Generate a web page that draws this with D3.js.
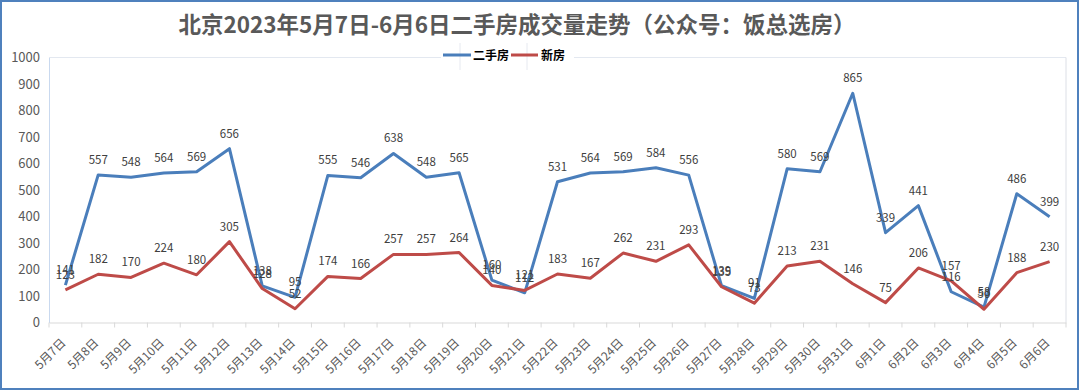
<!DOCTYPE html>
<html>
<head>
<meta charset="utf-8">
<script src="https://cdn.jsdelivr.net/npm/d3@7"></script>
<style>
  html, body { margin: 0; padding: 0; background: #fff; }
  svg { display: block; }
  text { font-family: "Noto Sans CJK SC", "Noto Sans", sans-serif; }
</style>
</head>
<body>
<svg id="chart" width="1080" height="391"></svg>
<script>
const categories = ["5月7日","5月8日","5月9日","5月10日","5月11日","5月12日","5月13日","5月14日","5月15日","5月16日","5月17日","5月18日","5月19日","5月20日","5月21日","5月22日","5月23日","5月24日","5月25日","5月26日","5月27日","5月28日","5月29日","5月30日","5月31日","6月1日","6月2日","6月3日","6月4日","6月5日","6月6日"];
const secondHand = [141,557,548,564,569,656,138,95,555,546,638,548,565,160,112,531,564,569,584,556,139,91,580,569,865,339,441,116,58,486,399];
const newHome = [123,182,170,224,180,305,128,52,174,166,257,257,264,140,121,183,167,262,231,293,135,73,213,231,146,75,206,157,50,188,230];
const yTicks = [0,100,200,300,400,500,600,700,800,900,1000];
const seriesNames = ["二手房","新房"];
const title = "北京2023年5月7日-6月6日二手房成交量走势（公众号：饭总选房）";

(function () {
const colors = ["#4a7ebb", "#be4b48"];
const svg = d3.select("#chart");
const W = 1080, H = 391;
const pL = 49, pR = 1066, pT = 57.5, pB = 322.5;

// outer frame
svg.append("rect").attr("x", 1).attr("y", 1).attr("width", W - 3).attr("height", H - 3)
  .attr("fill", "#fff").attr("stroke", "#4f81bd").attr("stroke-width", 2);

const x = d3.scaleBand().domain(categories).range([pL, pR]);
const y = d3.scaleLinear().domain([0, 1000]).range([pB, pT]);
const cx = c => x(c) + x.bandwidth() / 2;

// plot area border
svg.append("line").attr("x1", pL).attr("x2", pR).attr("y1", pT).attr("y2", pT)
  .attr("stroke", "#e3e8f0").attr("stroke-width", 1);
svg.append("line").attr("x1", pR).attr("x2", pR).attr("y1", pT).attr("y2", pB)
  .attr("stroke", "#dcdfe6").attr("stroke-width", 1);

// title
svg.append("text").attr("x", 517).attr("y", 33).attr("text-anchor", "middle")
  .attr("font-size", 22.5).attr("font-weight", "bold").attr("fill", "#595959").text(title);

// y axis
const yAxis = svg.append("g").attr("transform", `translate(${pL},0)`)
  .call(d3.axisLeft(y).tickValues(yTicks).tickFormat(d3.format("d")).tickSize(0).tickPadding(9));
yAxis.select(".domain").attr("stroke", "#c9d9ef");
yAxis.selectAll("text").attr("font-size", 13).attr("fill", "#595959")
  .style("font-family", "'Noto Sans CJK SC', sans-serif");

// x axis
const xAxis = svg.append("g").attr("transform", `translate(0,${pB})`)
  .call(d3.axisBottom(x).tickSize(0).tickFormat(""));
xAxis.select(".domain").attr("stroke", "#d9d9d9");
const bounds = categories.map(c => x(c)).concat([pR]);
svg.append("g").selectAll("line").data(bounds).join("line")
  .attr("x1", d => d).attr("x2", d => d).attr("y1", pB).attr("y2", pB + 5)
  .attr("stroke", "#d9d9d9");
svg.append("g").selectAll("text").data(categories).join("text")
  .attr("transform", d => `translate(${cx(d) + 1},${pB + 21}) rotate(-45)`)
  .attr("text-anchor", "end").attr("font-size", 12).attr("fill", "#595959").text(d => d);

// lines
const seriesData = [secondHand, newHome];
const line = d3.line().x((d, i) => cx(categories[i])).y(d => y(d));
seriesData.forEach((vals, si) => {
  svg.append("path").datum(vals).attr("d", line).attr("fill", "none")
    .attr("stroke", colors[si]).attr("stroke-width", 3).attr("stroke-linejoin", "round");
});

// data labels
seriesData.forEach((vals, si) => {
  svg.append("g").selectAll("text").data(vals).join("text")
    .attr("x", (d, i) => cx(categories[i])).attr("y", d => y(d) - 11)
    .attr("text-anchor", "middle").attr("font-size", 11.5).attr("fill", "#404040")
    .text(d => d);
});

// legend
const lg = svg.append("g");
lg.append("rect").attr("x", 441).attr("y", 44).attr("width", 133).attr("height", 24).attr("fill", "#fff");
lg.append("line").attr("x1", 460).attr("x2", 460).attr("y1", 43).attr("y2", 70).attr("stroke", "#e6e9f0");
lg.append("line").attr("x1", 527).attr("x2", 527).attr("y1", 43).attr("y2", 70).attr("stroke", "#e6e9f0");
const legendItems = [{x0: 443, x1: 471, tx: 473}, {x0: 511, x1: 538, tx: 541}];
legendItems.forEach((it, i) => {
  lg.append("line").attr("x1", it.x0).attr("x2", it.x1).attr("y1", 55).attr("y2", 55)
    .attr("stroke", colors[i]).attr("stroke-width", 3);
  lg.append("text").attr("x", it.tx).attr("y", 59.5).attr("font-size", 12).attr("font-weight", "bold")
    .attr("fill", "#000").text(seriesNames[i]);
});
})();
</script>
</body>
</html>
